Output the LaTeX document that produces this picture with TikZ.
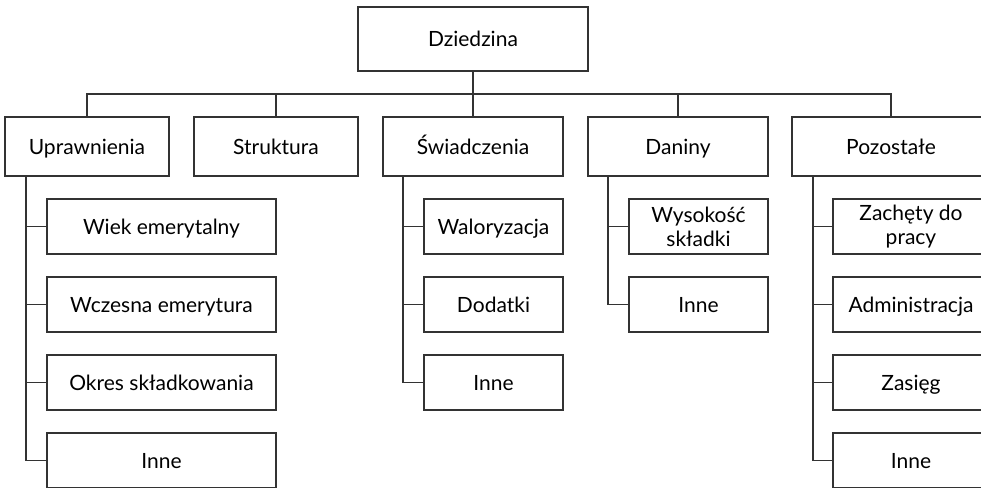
\documentclass[tikz,border=0pt]{standalone}
\usepackage{fontspec}
\setmainfont{Lato}
\usetikzlibrary{positioning,calc}

\tikzset{
  box/.style={draw=black!80, line width=1.3pt, inner sep=2pt, outer sep=0pt,
    align=center, font=\fontsize{21}{24}\selectfont},
  flat/.style={text height=20pt, text depth=5pt},
  head/.style={box, flat, minimum width=230pt, minimum height=64pt},
  cat/.style={box, flat, minimum height=59pt},
  item/.style={box, flat, minimum height=55pt},
  item2/.style={box, minimum height=55pt},
  link/.style={draw=black!80, line width=1.3pt},
}

\begin{document}
\begin{tikzpicture}[x=1pt,y=-1pt,node distance=25pt]
  \useasboundingbox (0,0) rectangle (981,487);
  \clip (0,0) rectangle (981,487);
  % top
  \node[head] (dz) at (473,39) {Dziedzina};
  % first level
  \node[cat,minimum width=164pt] (upr) at (87,146.5) {Uprawnienia};
  \node[cat,minimum width=164pt] (str) [right=of upr] {Struktura};
  \node[cat,minimum width=180pt] (swi) [right=of str] {Świadczenia};
  \node[cat,minimum width=180pt] (dan) [right=of swi] {Daniny};
  \node[cat,minimum width=198pt] (poz) [right=24pt of dan] {Pozostałe};
  % Uprawnienia
  \node[item,minimum width=229pt,anchor=north west] (u1)
    at ([xshift=42pt,yshift=-23pt]upr.south west) {Wiek emerytalny};
  \node[item,minimum width=229pt] (u2) [below=23pt of u1] {Wczesna emerytura};
  \node[item,minimum width=229pt] (u3) [below=23pt of u2] {Okres składkowania};
  \node[item,minimum width=229pt] (u4) [below=23pt of u3] {Inne};
  % Swiadczenia
  \node[item,minimum width=139pt,anchor=north west] (s1)
    at ([xshift=41pt,yshift=-23pt]swi.south west) {Waloryzacja};
  \node[item,minimum width=139pt] (s2) [below=23pt of s1] {Dodatki};
  \node[item,minimum width=139pt] (s3) [below=23pt of s2] {Inne};
  % Daniny
  \node[item2,minimum width=139pt,anchor=north west] (d1)
    at ([xshift=41pt,yshift=-23pt]dan.south west) {Wysokość\\składki};
  \node[item,minimum width=139pt] (d2) [below=23pt of d1] {Inne};
  % Pozostale
  \node[item2,minimum width=156pt,anchor=north west] (p1)
    at ([xshift=41pt,yshift=-23pt]poz.south west) {Zachęty do\\pracy};
  \node[item,minimum width=156pt] (p2) [below=23pt of p1] {Administracja};
  \node[item,minimum width=156pt] (p3) [below=23pt of p2] {Zasięg};
  \node[item,minimum width=156pt] (p4) [below=23pt of p3] {Inne};

  % connectors
  \coordinate (hub) at ($(dz.south)!.5!(swi.north)$);
  \draw[link] (dz) -- (swi);
  \draw[link] (upr.north) |- (hub) -| (poz.north);
  \foreach \n in {str,dan} \draw[link] (\n.north) |- (hub);

  \coordinate (us) at ([xshift=21pt]upr.south west);
  \coordinate (ss) at ([xshift=20pt]swi.south west);
  \coordinate (ds) at ([xshift=20pt]dan.south west);
  \coordinate (ps) at ([xshift=21pt]poz.south west);
  \foreach \n in {u1,u2,u3,u4} \draw[link] (us) |- (\n.west);
  \foreach \n in {s1,s2,s3} \draw[link] (ss) |- (\n.west);
  \foreach \n in {d1,d2} \draw[link] (ds) |- (\n.west);
  \foreach \n in {p1,p2,p3,p4} \draw[link] (ps) |- (\n.west);
\end{tikzpicture}
\end{document}
